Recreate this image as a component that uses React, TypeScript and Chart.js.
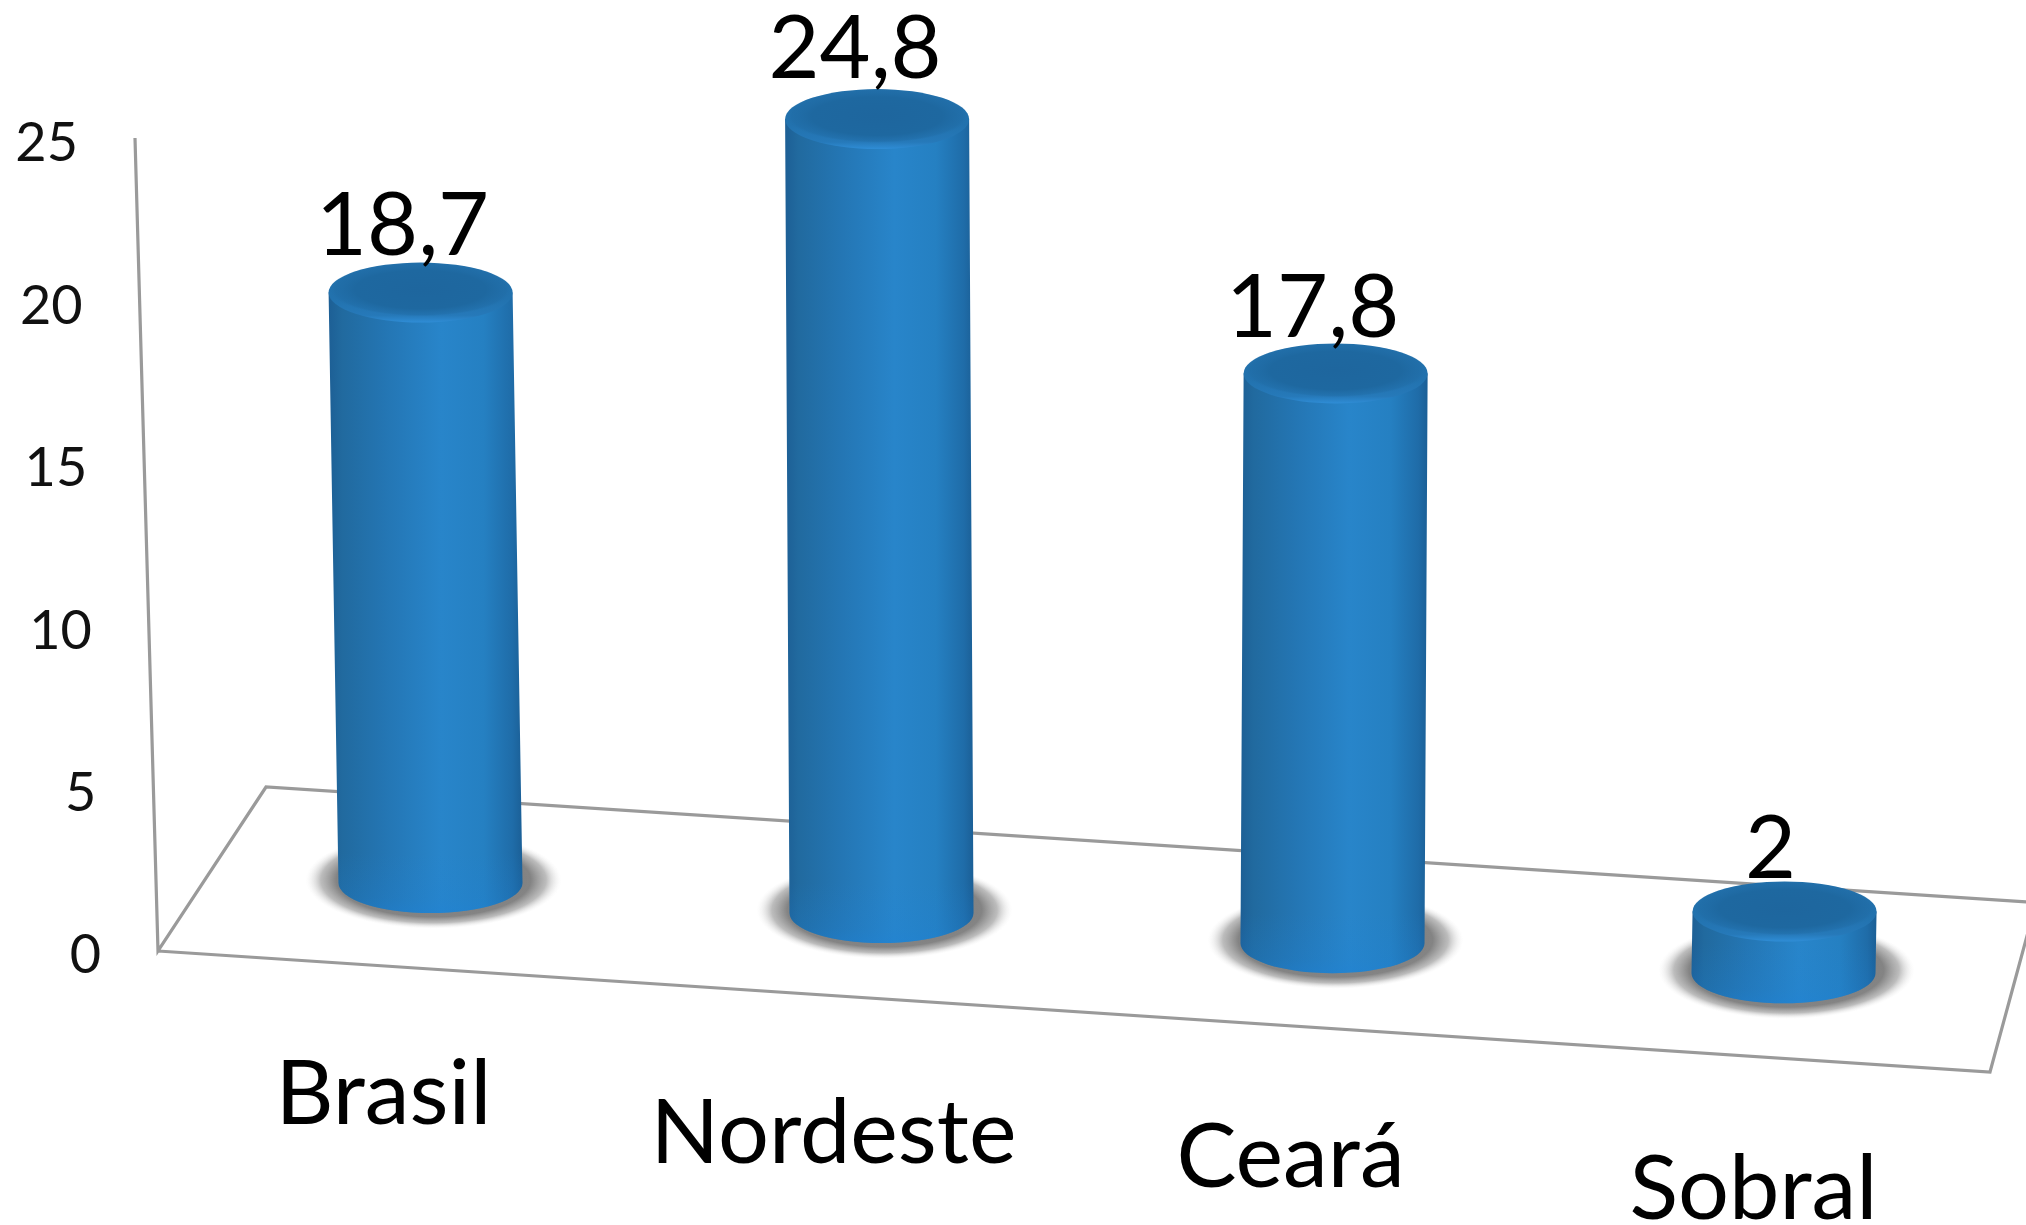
import React, { useEffect, useRef } from "react";
import { Chart, registerables } from "chart.js";

Chart.register(...registerables);

const categories = ["Brasil", "Nordeste", "Ceará", "Sobral"];
const seriesValues = [18.7, 24.8, 17.8, 2];
const yTickStep = 5;
const yMax = 25;

const WIDTH = 2026;
const HEIGHT = 1225;
const FONT = "Lato, Carlito, 'Open Sans', sans-serif";
const LINE = "#9a9a9a";
const FLOOR_SLOPE = 0.0667;
const FLOOR_Y_AT_FIRST = 883;
const HEIGHT_FACTOR = 0.982;
const RY = 30;
// small perspective corrections, in pixels, per category
const capShiftY = [6, -3, -2, 2];
const valueLabelGap = [8, 11, 6, 3];
const valueLabelShiftX = [-18, -22, -23, -14];
const categoryShiftX = [-47, -48, -42, -30];
const categoryBaseline = [1124, 1163, 1187, 1219];

const cylinderGeom = (el: any, i: number, first: number) => {
  const bx = el.x;
  const by = FLOOR_Y_AT_FIRST + (el.x - first) * FLOOR_SLOPE;
  const h = (el.base - el.y) * HEIGHT_FACTOR;
  const tx = bx + (bx - 1108) * 0.0000245 * h;
  const ty = by - h + capShiftY[i];
  return { bx, by, tx, ty };
};

const cylinders = {
  id: "cylinders",
  beforeDatasetsDraw(chart: any) {
    const { ctx, scales } = chart;
    const y = scales.y;
    const y0 = y.getPixelForValue(0);
    const yTop = y.getPixelForValue(yMax);
    const left = chart.chartArea.left;
    ctx.save();
    ctx.strokeStyle = LINE;
    ctx.lineWidth = 3.2;
    ctx.lineJoin = "miter";
    ctx.beginPath();
    ctx.moveTo(left - 70, yTop);
    ctx.lineTo(left - 47, y0 + 1);
    ctx.lineTo(left + 61, y0 - 163);
    ctx.lineTo(WIDTH + 10, y0 - 163 + (WIDTH + 10 - left - 61) * 0.0653);
    ctx.moveTo(left - 47, y0 + 1);
    ctx.lineTo(left + 1785, y0 + 122);
    ctx.lineTo(WIDTH + 4, y0 - 25);
    ctx.stroke();
    ctx.restore();
  },
  beforeDatasetDraw(chart: any, args: any) {
    const { ctx } = chart;
    const meta = chart.getDatasetMeta(args.index);
    const first = meta.data[0].x;
    meta.data.forEach((el: any, i: number) => {
      const r = el.width / 2;
      const { bx, by, tx, ty } = cylinderGeom(el, i, first);

      // ground shadow
      ctx.save();
      ctx.translate(bx + 3, by - 3);
      ctx.scale(1, 0.38);
      const sr = r + 36;
      const sg = ctx.createRadialGradient(0, 0, 0, 0, 0, sr);
      sg.addColorStop(0, "rgba(120,120,120,1)");
      sg.addColorStop(0.76, "rgba(125,125,125,0.95)");
      sg.addColorStop(0.88, "rgba(160,160,160,0.7)");
      sg.addColorStop(1, "rgba(235,235,235,0)");
      ctx.fillStyle = sg;
      ctx.beginPath();
      ctx.arc(0, 0, sr, 0, Math.PI * 2);
      ctx.fill();
      ctx.restore();

      // body
      const path = () => {
        ctx.beginPath();
        ctx.moveTo(tx - r, ty);
        ctx.lineTo(bx - r, by);
        ctx.ellipse(bx, by, r, RY, 0, Math.PI, 0, true);
        ctx.lineTo(tx + r, ty);
        ctx.closePath();
      };
      const g = ctx.createLinearGradient(Math.min(tx, bx) - r, 0, Math.max(tx, bx) + r, 0);
      g.addColorStop(0, "#1d5f95");
      g.addColorStop(0.07, "#216a9f");
      g.addColorStop(0.3, "#2476b4");
      g.addColorStop(0.58, "#2885ca");
      g.addColorStop(0.8, "#2580c2");
      g.addColorStop(0.95, "#1f6ca8");
      g.addColorStop(1, "#1b5f96");
      path();
      ctx.fillStyle = g;
      ctx.fill();
      const v = ctx.createLinearGradient(0, by - 30, 0, by + RY);
      v.addColorStop(0, "rgba(30,130,215,0)");
      v.addColorStop(0.75, "rgba(30,130,215,0.22)");
      v.addColorStop(1, "rgba(30,130,215,0.45)");
      path();
      ctx.fillStyle = v;
      ctx.fill();

      // cap: bevelled rim
      const c = ctx.createLinearGradient(0, ty - RY, 0, ty + RY);
      c.addColorStop(0, "#226fa9");
      c.addColorStop(0.6, "#2272ae");
      c.addColorStop(0.88, "#2679b9");
      c.addColorStop(1, "#2f8dd6");
      ctx.beginPath();
      ctx.ellipse(tx, ty, r, RY, 0, 0, Math.PI * 2);
      ctx.fillStyle = c;
      ctx.fill();

      // cap: darker inner disc with a soft edge
      ctx.save();
      ctx.translate(tx, ty - 3);
      ctx.scale(1, (RY - 3) / r);
      const d = ctx.createRadialGradient(0, 0, 0, 0, 0, r - 1);
      d.addColorStop(0, "rgba(30,102,158,1)");
      d.addColorStop(0.72, "rgba(30,104,160,1)");
      d.addColorStop(0.94, "rgba(32,108,166,0.55)");
      d.addColorStop(1, "rgba(34,112,172,0)");
      ctx.fillStyle = d;
      ctx.beginPath();
      ctx.arc(0, 0, r - 1, 0, Math.PI * 2);
      ctx.fill();
      ctx.restore();
    });
    return false;
  },
  afterDatasetsDraw(chart: any) {
    const { ctx, scales } = chart;
    const { x, y } = scales;
    const meta = chart.getDatasetMeta(0);
    const first = meta.data[0].x;
    const y0 = y.getPixelForValue(0);
    const yTop = y.getPixelForValue(yMax);
    ctx.save();
    ctx.fillStyle = "#000000";
    ctx.textBaseline = "alphabetic";

    // value labels on the cylinder tops
    ctx.textAlign = "center";
    ctx.font = `88px ${FONT}`;
    meta.data.forEach((el: any, i: number) => {
      const { tx, ty } = cylinderGeom(el, i, first);
      ctx.fillText(String(seriesValues[i]).replace(".", ","), tx + valueLabelShiftX[i], ty - RY - valueLabelGap[i]);
    });

    // category labels following the floor
    ctx.font = `90px ${FONT}`;
    categories.forEach((_, i) => {
      const px = x.getPixelForValue(i);
      ctx.fillText(x.getLabelForValue(i), px + categoryShiftX[i], categoryBaseline[i]);
    });

    // value tick labels following the leaning axis
    ctx.textAlign = "right";
    ctx.textBaseline = "middle";
    ctx.font = `54px ${FONT}`;
    ctx.fillStyle = "#111111";
    y.ticks.forEach((t: any) => {
      const py = y.getPixelForValue(t.value);
      const axisX = chart.chartArea.left - 47 - ((y0 - py) / (y0 - yTop)) * 23;
      ctx.fillText(String(t.value), axisX - 57, py + 6);
    });
    ctx.restore();
  },
};

export default function App() {
  const ref = useRef<HTMLCanvasElement>(null);
  useEffect(() => {
    const chart = new Chart(ref.current as HTMLCanvasElement, {
      type: "bar",
      data: {
        labels: categories,
        datasets: [
          {
            data: seriesValues,
            backgroundColor: "#2475b3",
            categoryPercentage: 1,
            barPercentage: 0.408,
          },
        ],
      },
      options: {
        responsive: false,
        animation: false,
        layout: { padding: { left: 205, right: 17, top: 138, bottom: 275 } },
        plugins: { legend: { display: false }, tooltip: { enabled: false } },
        scales: {
          x: { display: false, offset: true },
          y: { display: false, min: 0, max: yMax, ticks: { stepSize: yTickStep } },
        },
      },
      plugins: [cylinders],
    });
    return () => chart.destroy();
  }, []);
  return (
    <div style={{ position: "absolute", left: 0, top: 0, width: WIDTH, height: HEIGHT, background: "#ffffff", overflow: "hidden" }}>
      <canvas ref={ref} width={WIDTH} height={HEIGHT} style={{ display: "block" }} />
    </div>
  );
}
